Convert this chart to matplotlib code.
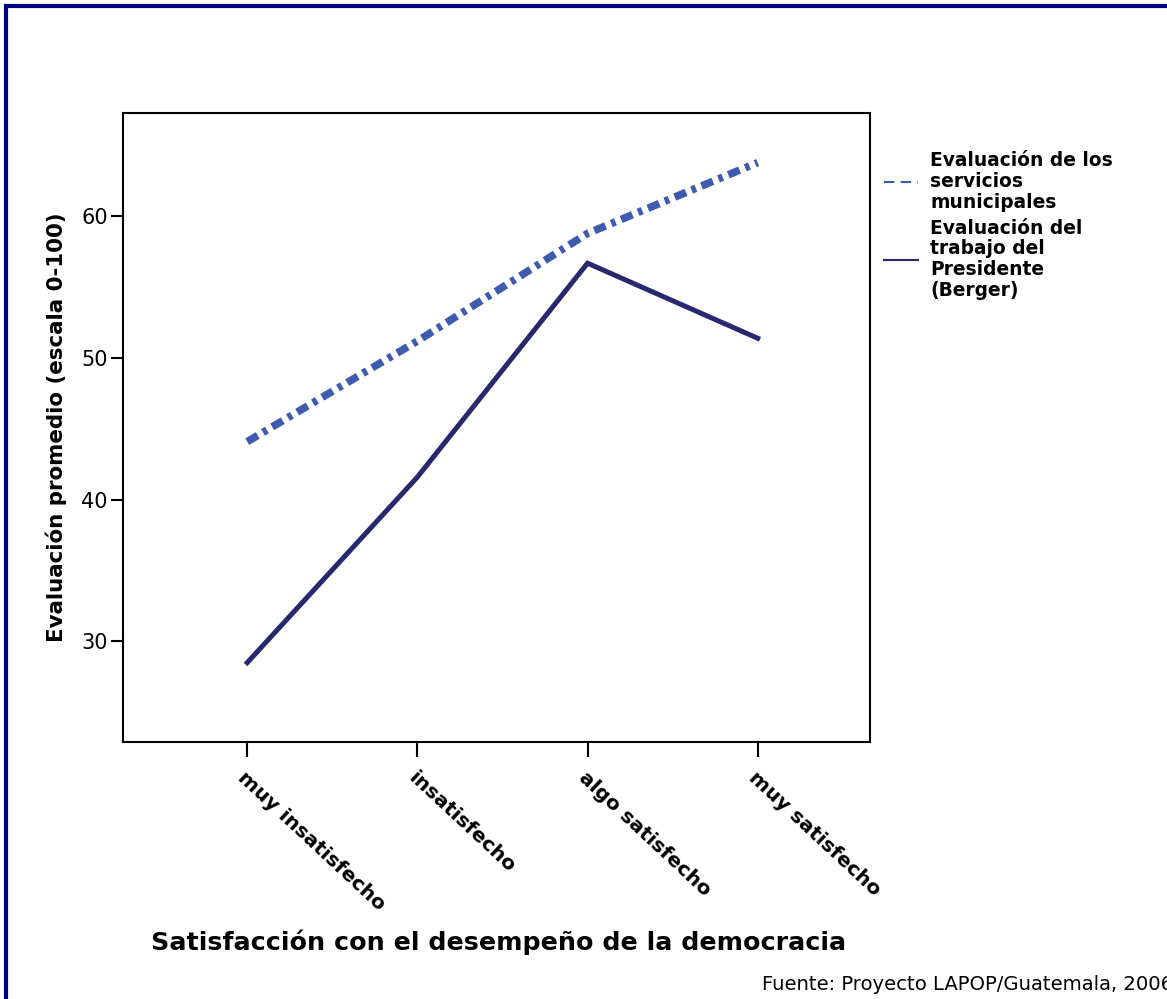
import matplotlib
matplotlib.use('Agg')
import matplotlib.pyplot as plt
from matplotlib.lines import Line2D
from matplotlib.patches import Rectangle

# data
categories = ['muy insatisfecho', 'insatisfecho', 'algo satisfecho', 'muy satisfecho']
servicios = [44.1, 51.2, 58.8, 63.8]
presidente = [28.5, 41.6, 56.7, 51.4]
yticks = [30, 40, 50, 60]
labels = ['Evaluación de los\nservicios\nmunicipales',
          'Evaluación del\ntrabajo del\nPresidente\n(Berger)']

c_serv = '#3F5BB0'
c_pres = '#28286E'

plt.rcParams['font.family'] = 'DejaVu Sans'

fig = plt.figure(figsize=(11.67, 9.99), dpi=100)
ax = fig.add_axes([123/1167, 1 - 742/999, (870 - 123)/1167, (742 - 113)/999])

x = range(len(categories))
ax.plot(x, servicios, color=c_serv, lw=5.5, dashes=(1.6, 0.8, 0.6, 0.8),
        dash_capstyle='butt')
ax.plot(x, presidente, color=c_pres, lw=3.6, solid_joinstyle='miter')

ax.set_xlim(-0.73, 3.66)
ax.set_ylim(22.9, 67.3)
ax.set_yticks(yticks)
ax.set_yticklabels([str(v) for v in yticks], fontsize=15)
ax.set_xticks(list(x))
ax.set_xticklabels(categories, fontsize=14.5, fontweight='bold',
                   rotation=-43, ha='left', rotation_mode='anchor')
ax.tick_params(axis='y', length=9, width=1.5, pad=2)
ax.tick_params(axis='x', length=11, width=1.5, pad=8)
for s in ax.spines.values():
    s.set_linewidth(1.5)

ax.set_ylabel('Evaluación promedio (escala 0-100)', fontsize=15.4,
              fontweight='bold', labelpad=10)
fig.text(499/1167, 1 - 942/999, 'Satisfacción con el desempeño de la democracia',
         fontsize=18.3, fontweight='bold', ha='center', va='center')
# source note runs off the right edge in the reference as well
fig.text(762/1167, 1 - 990/999, 'Fuente: Proyecto LAPOP/Guatemala, 2006',
         fontsize=14.1, ha='left', va='baseline')

handles = [Line2D([], [], color=c_serv, lw=1.5, dashes=(5, 3)),
           Line2D([], [], color=c_pres, lw=1.5)]
leg = fig.legend(handles, labels, loc='upper left',
                 bbox_to_anchor=(884/1167, 1 - 151/999), frameon=False,
                 borderpad=0, borderaxespad=0, handlelength=1.83,
                 handletextpad=0.65, labelspacing=0.38,
                 prop={'size': 13.4, 'weight': 'bold'})
for t in leg.get_texts():
    t.set_linespacing(1.12)

# navy page border (only top and left visible in the crop)
fig.patches.append(Rectangle((6/1167, -1), 2, 2 - 6/999,
                             transform=fig.transFigure, fill=False,
                             edgecolor='#000080', lw=3, clip_on=False))

fig.savefig('out.png', dpi=100)
